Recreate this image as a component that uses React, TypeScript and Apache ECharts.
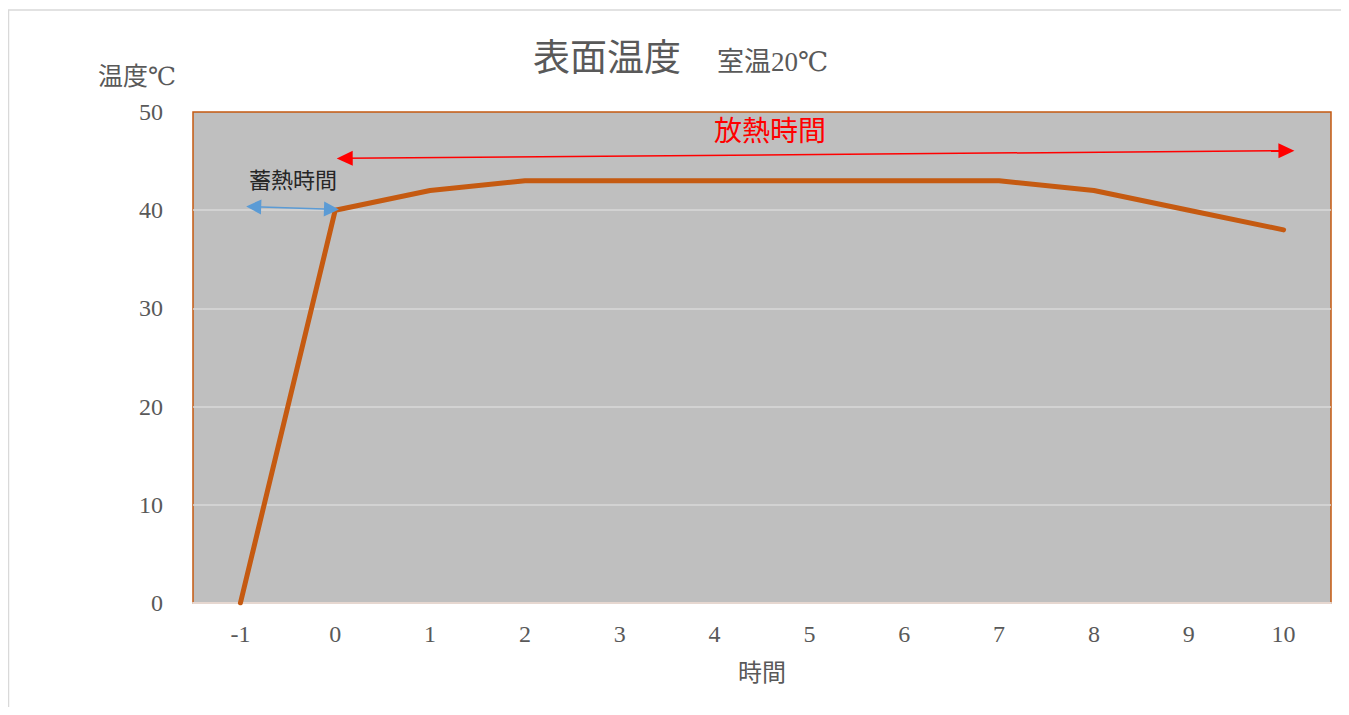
import React, { useEffect, useRef } from "react";
import * as echarts from "echarts";

const categories = ["-1", "0", "1", "2", "3", "4", "5", "6", "7", "8", "9", "10"];
const temperature = [0, 40, 42, 43, 43, 43, 43, 43, 43, 42, 40, 38];
// annotation arrows in (continuous time, temperature) space
const storeArrowX = [-0.86, -0.04];
const storeArrowY = [40.36, 40.09];
const releaseArrowX = [0.1, 10.03];
const releaseArrowY = [45.28, 46.06];

const SERIF = "'Liberation Serif', 'DejaVu Serif', 'Noto Sans CJK JP', serif";
const SANS = "'Noto Sans CJK JP', 'Noto Sans', sans-serif";

export default function App() {
  const ref = useRef<HTMLDivElement>(null);
  useEffect(() => {
    if (!ref.current) return;
    const chart = echarts.init(ref.current, null, { renderer: "svg" });
    chart.setOption({
      animation: false,
      title: {
        text: "{a|表面温度}{b|室温20℃}",
        left: 520,
        top: 27,
        textStyle: {
          fontWeight: "normal",
          rich: {
            a: { fontSize: 37, color: "#595959", fontFamily: SERIF, fontWeight: "normal" },
            b: { fontSize: 27, color: "#595959", fontFamily: SERIF, fontWeight: "normal", padding: [8, 0, 0, 36] },
          },
        },
      },
      grid: {
        left: 185,
        top: 104,
        right: 10,
        bottom: 104,
        show: true,
        backgroundColor: "#bfbfbf",
        borderColor: "#c55a11",
        borderWidth: 1.5,
      },
      xAxis: [
        {
          type: "category",
          data: categories,
          boundaryGap: true,
          name: "時間",
          nameLocation: "middle",
          nameGap: 58,
          nameTextStyle: { fontSize: 24, color: "#595959", fontFamily: SERIF },
          axisLine: { show: true, lineStyle: { color: "#e6d7d0", width: 2 } },
          axisTick: { show: false },
          axisLabel: { fontSize: 24, color: "#595959", fontFamily: SERIF, margin: 19 },
          splitLine: { show: false },
        },
        {
          type: "value",
          min: -1.5,
          max: 10.5,
          show: false,
          splitLine: { show: false },
        },
      ],
      yAxis: {
        type: "value",
        min: 0,
        max: 50,
        interval: 10,
        axisLine: { show: false },
        axisTick: { show: false },
        axisLabel: { fontSize: 24, color: "#595959", fontFamily: SERIF, margin: 30 },
        splitLine: { show: true, showMaxLine: false, lineStyle: { color: "#d9d9d9", width: 1.5 } },
      },
      graphic: [
        { type: "line", shape: { x1: 0, y1: 2, x2: 1400, y2: 2 }, style: { stroke: "#d9d9d9", lineWidth: 1.5 } },
        { type: "line", shape: { x1: 0.5, y1: 2, x2: 0.5, y2: 800 }, style: { stroke: "#d9d9d9", lineWidth: 1.5 } },
        {
          type: "text",
          left: 90,
          top: 56,
          style: { text: "温度℃", fontSize: 25, fill: "#595959", fontFamily: SERIF },
        },
        {
          type: "text",
          x: 285,
          y: 170,
          style: { text: "蓄熱時間", fontSize: 22, fill: "#262626", fontFamily: SANS, align: "center", verticalAlign: "middle" },
        },
        {
          type: "text",
          x: 762,
          y: 121,
          style: { text: "放熱時間", fontSize: 28, fill: "#ff0000", fontFamily: SANS, align: "center", verticalAlign: "middle" },
        },
      ],
      series: [
        {
          type: "line",
          data: temperature,
          symbol: "none",
          lineStyle: { color: "#c55a11", width: 5, cap: "round", join: "round" },
          z: 3,
        },
        {
          type: "line",
          xAxisIndex: 1,
          data: [],
          symbol: "none",
          silent: true,
          z: 4,
          markLine: {
            silent: true,
            animation: false,
            label: { show: false },
            emphasis: { disabled: true },
            data: [
              [
                { coord: [storeArrowX[0], storeArrowY[0]], symbol: "triangle", symbolSize: [15, 15], lineStyle: { color: "#5b9bd5", width: 1.5, type: "solid" } },
                { coord: [storeArrowX[1], storeArrowY[1]], symbol: "triangle", symbolSize: [15, 15] },
              ],
              [
                { coord: [releaseArrowX[0], releaseArrowY[0]], symbol: "triangle", symbolSize: [15, 16], lineStyle: { color: "#ff0000", width: 1.5, type: "solid" } },
                { coord: [releaseArrowX[1], releaseArrowY[1]], symbol: "triangle", symbolSize: [15, 16] },
              ],
            ],
          },
        },
      ],
    });
    return () => chart.dispose();
  }, []);
  return <div ref={ref} style={{ width: 1333, height: 699 }} />;
}
